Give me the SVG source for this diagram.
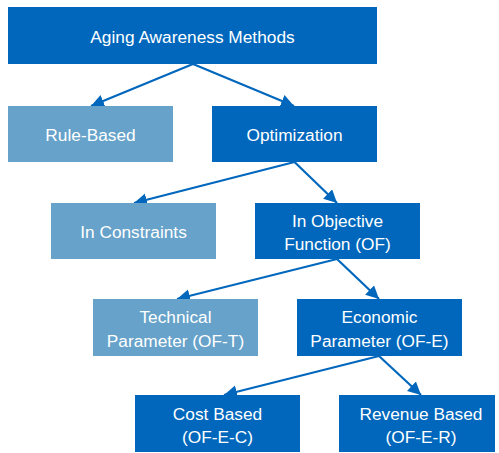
<svg xmlns="http://www.w3.org/2000/svg" width="499" height="453" viewBox="0 0 499 453">
<defs>
<style>
.dark{fill:#0067BC}
.light{fill:#66A2C9}
text{font-family:"Liberation Sans",Arial,sans-serif;font-size:17.3px;fill:#fff;text-anchor:middle}
.edge{stroke:#0067BC;stroke-width:2.2;fill:none;marker-end:url(#ah)}
</style>
<marker id="ah" markerUnits="userSpaceOnUse" markerWidth="14" markerHeight="14" refX="13" refY="6.5" orient="auto">
<path d="M0,0 L13,6.5 L0,13 z" fill="#0067BC"/>
</marker>
</defs>
<rect width="499" height="453" fill="#fff"/>
<g id="connectors">
<path class="edge" d="M193,64 L91,106"/>
<path class="edge" d="M193,64 L294,106"/>
<path class="edge" d="M294.5,162 L134,203"/>
<path class="edge" d="M294.5,162 L337,203"/>
<path class="edge" d="M337,259 L177,299"/>
<path class="edge" d="M337,259 L379,299"/>
<path class="edge" d="M379,356 L224,395"/>
<path class="edge" d="M379,356 L421,395"/>
</g>
<g id="n-root"><rect class="dark" x="8" y="7" width="369" height="57"/><text x="192.5" y="43">Aging Awareness Methods</text></g>
<g id="n-rule"><rect class="light" x="8" y="106" width="165" height="56"/><text x="90.5" y="140.5">Rule-Based</text></g>
<g id="n-opt"><rect class="dark" x="212" y="106" width="165" height="56"/><text x="294.5" y="140.5">Optimization</text></g>
<g id="n-cons"><rect class="light" x="51" y="203" width="165" height="56"/><text x="133.5" y="237.5">In Constraints</text></g>
<g id="n-of"><rect class="dark" x="255" y="203" width="165" height="56"/><text x="337.5" y="226.5">In Objective</text><text x="337.5" y="250">Function (OF)</text></g>
<g id="n-oft"><rect class="light" x="93" y="299" width="165" height="57"/><text x="175.5" y="322.5">Technical</text><text x="175.5" y="346.5">Parameter (OF-T)</text></g>
<g id="n-ofe"><rect class="dark" x="297" y="299" width="165" height="57"/><text x="379.5" y="322.5">Economic</text><text x="379.5" y="346.5">Parameter (OF-E)</text></g>
<g id="n-ofec"><rect class="dark" x="135" y="395" width="165" height="57"/><text x="217.5" y="419.5">Cost Based</text><text x="217.5" y="443">(OF-E-C)</text></g>
<g id="n-ofer"><rect class="dark" x="339" y="395" width="156" height="57"/><text x="421" y="419.5">Revenue Based</text><text x="421" y="443">(OF-E-R)</text></g>
</svg>
